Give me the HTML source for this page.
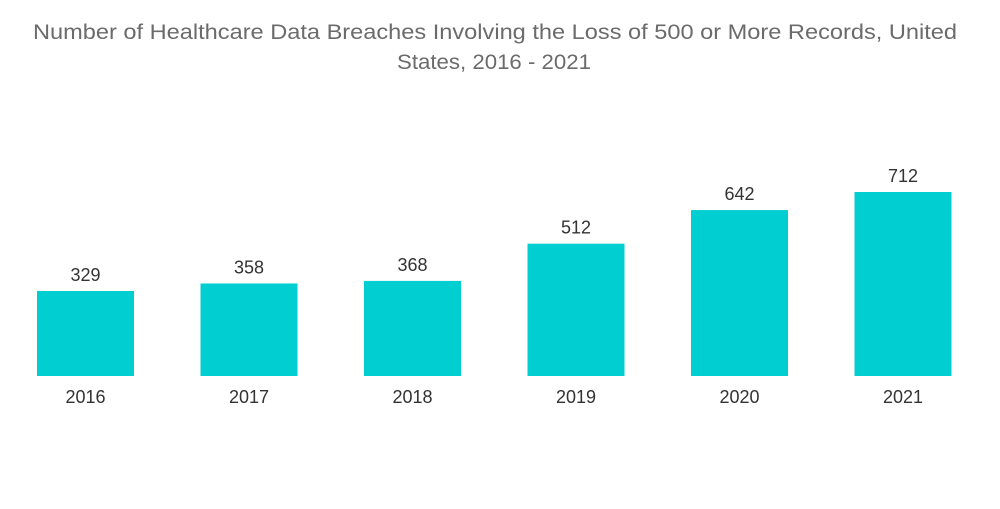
<!DOCTYPE html>
<html><head><meta charset="utf-8"><style>
body{margin:0;background:#fff;width:1000px;height:504px;overflow:hidden;font-family:"Liberation Sans",sans-serif}
</style></head><body>
<svg width="1000" height="504">
<text x="495" y="39" text-anchor="middle" font-size="21" fill="#6b6b6b" textLength="924" lengthAdjust="spacingAndGlyphs">Number of Healthcare Data Breaches Involving the Loss of 500 or More Records, United</text>
<text x="494" y="69" text-anchor="middle" font-size="21" fill="#6b6b6b" textLength="194" lengthAdjust="spacingAndGlyphs">States, 2016 - 2021</text>
<g id="bars"></g>
</svg>
<script>
const categories=["2016","2017","2018","2019","2020","2021"];
const values=[329,358,368,512,642,712];
const svg=document.getElementById('bars');
const base=376, scale=184/712, x0=85.5, step=163.5, bw=97;
function xScale(i){return x0+i*step;}
function yScale(v){return base-v*scale;}
const ns="http://www.w3.org/2000/svg";
categories.forEach((c,i)=>{
  const r=document.createElementNS(ns,'rect');
  r.setAttribute('x',xScale(i)-bw/2);r.setAttribute('y',yScale(values[i]));
  r.setAttribute('width',bw);r.setAttribute('height',base-yScale(values[i]));
  r.setAttribute('fill','#00ced1');
  
  
  svg.appendChild(r);
  const t=document.createElementNS(ns,'text');
  t.setAttribute('x',xScale(i));t.setAttribute('y',yScale(values[i])-10);
  t.setAttribute('text-anchor','middle');t.setAttribute('font-size','18');t.setAttribute('fill','#333');
  t.textContent=values[i];
  
  
  svg.appendChild(t);
  const l=document.createElementNS(ns,'text');
  l.setAttribute('x',xScale(i));l.setAttribute('y',base+27);
  l.setAttribute('text-anchor','middle');l.setAttribute('font-size','18');l.setAttribute('fill','#333');
  l.textContent=c;
  
  
  svg.appendChild(l);
});
</script>
</body></html>
